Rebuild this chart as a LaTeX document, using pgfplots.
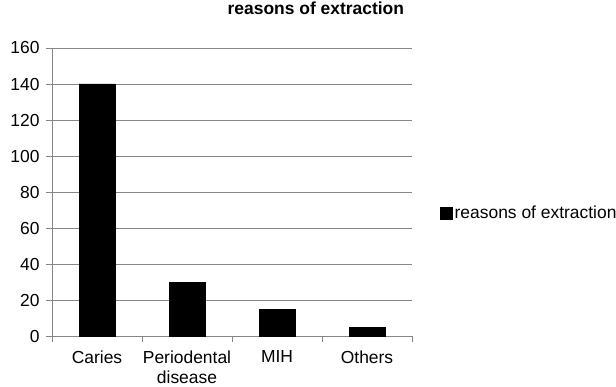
\documentclass[border=0pt]{standalone}
\usepackage{pgfplots}
\pgfplotsset{compat=1.18}
\usepackage{fontspec}
\setmainfont{Liberation Sans}
\definecolor{gridgray}{RGB}{134,134,134}
\begin{document}
\begin{tikzpicture}[x=1bp,y=1bp]
\useasboundingbox (0,0) rectangle (616,386);
\begin{axis}[
  at={(52bp,50bp)}, anchor=south west,
  scale only axis, width=360bp, height=288bp,
  xmin=-0.5, xmax=3.5, ymin=0, ymax=160,
  ytick={0,20,...,160},
  xtick={0,1,2,3},
  xticklabels={Caries,{Periodental\\disease},MIH,Others},
  minor xtick={-0.5,0.5,1.5,2.5,3.5},
  major x tick style={draw=none},
  tick align=outside,
  major tick length=6bp, minor tick length=6bp,
  ymajorgrids, grid style={gridgray, line width=0.8pt},
  tick style={gridgray, line width=0.8pt},
  axis x line*=bottom, axis y line*=left,
  axis line style={gridgray, line width=0.8pt, -},
  ticklabel style={font=\fontsize{17.5}{20}\selectfont},
  xticklabel style={align=center, yshift=-5bp},
  yticklabel style={xshift=-3bp},
  /pgf/number format/assume math mode=true,
  title={\bfseries reasons of extraction},
  title style={at={(0.733,1.118)}, anchor=center, font=\fontsize{17.5}{20}\selectfont},
  legend style={at={(1.078,0.427)}, anchor=west, draw=none, fill=none,
    font=\fontsize{17.5}{20}\selectfont, inner sep=0pt},
  legend image code/.code={\fill[black] (0bp,-6bp) rectangle (12bp,6bp);},
  legend cell align=left,
]
\addplot[ybar, bar width=36bp, fill=black, draw=black] coordinates {(0,140) (1,30) (2,15) (3,5)};
\addlegendentry{reasons of extraction}
\end{axis}
\end{tikzpicture}
\end{document}
